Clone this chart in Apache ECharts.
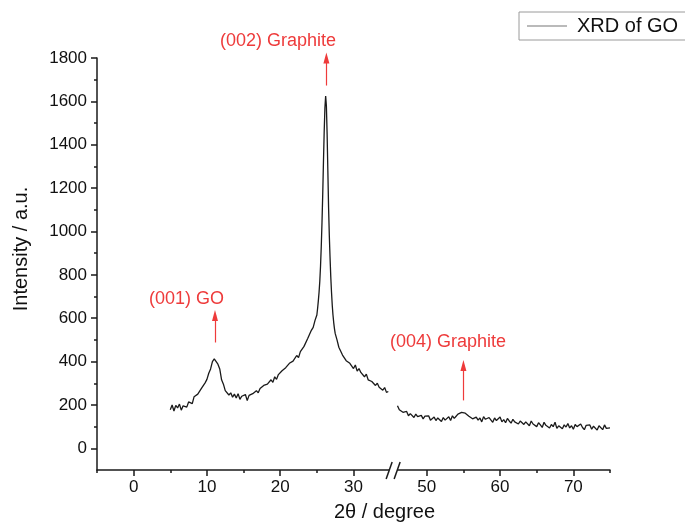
<!DOCTYPE html>
<html><head><meta charset="utf-8">
<script src="https://cdn.jsdelivr.net/npm/echarts@6/dist/echarts.min.js"></script>
<style>html,body{margin:0;padding:0;background:#fff}#c{width:685px;height:529px}</style>
</head><body><div id="c"></div>
<script>
// 2θ (degree), intensity (a.u.) — low-angle scan segment
const scanLow = [
[5.0,178],[5.25,200],[5.5,172],[5.75,198],[6.0,186],[6.25,204],[6.5,176],[6.75,196],
[7.0,202],[7.25,190],[7.5,214],[7.75,220],[8.0,206],[8.25,238],[8.5,230],[8.75,250],
[9.0,244],[9.25,276],[9.5,280],[9.75,302],[10.0,318],[10.25,346],[10.5,366],[10.75,400],
[11.0,412],[11.25,420],[11.5,388],[11.75,366],[12.0,316],[12.25,296],[12.5,266],[12.75,270],
[13.0,246],[13.25,256],[13.5,236],[13.75,250],[14.0,232],[14.25,252],[14.5,226],[14.75,240],
[15.0,236],[15.25,248],[15.5,220],[15.75,244],[16.0,236],[16.25,252],[16.5,246],[16.75,266],
[17.0,256],[17.25,276],[17.5,268],[17.75,290],[18.0,282],[18.25,296],[18.5,294],[18.75,316],
[19.0,304],[19.25,330],[19.5,318],[19.75,340],[20.0,344],[20.25,358],[20.5,350],[20.75,372],
[21.0,368],[21.25,392],[21.5,386],[21.75,402],[22.0,406],[22.25,428],[22.5,418],[22.75,446],
[23.0,450],[23.25,470],[23.5,474],[23.75,506],[24.0,514],[24.25,544],[24.5,558],[24.75,590],
[25.0,615],[25.1,645],[25.2,680],[25.3,720],[25.4,770],[25.5,840],[25.6,930],[25.7,1040],
[25.8,1170],[25.9,1320],[26.0,1460],[26.1,1570],[26.2,1625],[26.3,1580],[26.4,1450],[26.5,1280],
[26.6,1110],[26.7,980],[26.8,880],[26.9,790],[27.0,720],[27.1,660],[27.2,615],[27.3,580],
[27.4,552],[27.5,530],[27.75,500],[28.0,466],[28.25,468],[28.5,430],[28.75,434],[29.0,404],
[29.25,412],[29.5,392],[29.75,396],[30.0,368],[30.25,384],[30.5,356],[30.75,368],[31.0,350],
[31.25,352],[31.5,330],[31.75,342],[32.0,316],[32.25,324],[32.5,308],[32.75,312],[33.0,290],
[33.25,300],[33.5,282],[33.75,288],[34.0,268],[34.25,280],[34.5,258],[34.75,262]
];
// high-angle scan segment
const scanHigh = [
[46.0,196],[46.25,178],[46.5,182],[46.75,166],[47.0,162],[47.25,170],[47.5,150],[47.75,160],
[48.0,154],[48.25,142],[48.5,158],[48.75,146],[49.0,140],[49.25,152],[49.5,136],[49.75,148],
[50.0,142],[50.25,150],[50.5,130],[50.75,138],[51.0,144],[51.25,128],[51.5,140],[51.75,134],
[52.0,124],[52.25,142],[52.5,130],[52.75,138],[53.0,146],[53.25,128],[53.5,150],[53.75,138],
[54.0,148],[54.25,158],[54.5,150],[54.75,166],[55.0,174],[55.25,162],[55.5,168],[55.75,148],
[56.0,154],[56.25,136],[56.5,128],[56.75,144],[57.0,130],[57.25,140],[57.5,122],[57.75,146],
[58.0,134],[58.25,126],[58.5,142],[58.75,136],[59.0,120],[59.25,140],[59.5,128],[59.75,134],
[60.0,144],[60.25,122],[60.5,132],[60.75,118],[61.0,138],[61.25,126],[61.5,116],[61.75,134],
[62.0,122],[62.25,130],[62.5,112],[62.75,126],[63.0,132],[63.25,110],[63.5,122],[63.75,116],
[64.0,104],[64.25,126],[64.5,112],[64.75,120],[65.0,100],[65.25,118],[65.5,108],[65.75,96],
[66.0,120],[66.25,106],[66.5,114],[66.75,94],[67.0,110],[67.25,100],[67.5,120],[67.75,92],
[68.0,104],[68.25,112],[68.5,90],[68.75,108],[69.0,98],[69.25,114],[69.5,94],[69.75,104],
[70.0,88],[70.25,110],[70.5,100],[70.75,92],[71.0,112],[71.25,96],[71.5,86],[71.75,106],
[72.0,98],[72.25,108],[72.5,88],[72.75,102],[73.0,94],[73.25,84],[73.5,104],[73.75,96],
[74.0,86],[74.25,108],[74.5,92],[74.75,100],[75.0,94]
];
const xTickLabels = [0, 10, 20, 30, 50, 60, 70];
const xMinorTicks = [-5, 5, 15, 25, 55, 65, 75];
const yTickLabels = [0, 200, 400, 600, 800, 1000, 1200, 1400, 1600, 1800];
const yMinorTicks = [100, 300, 500, 700, 900, 1100, 1300, 1500, 1700];
const axisBreak = { start: 35, end: 45 };
const seriesName = 'XRD of GO';
const peakNotes = ['(001) GO', '(002) Graphite', '(004) Graphite'];
// annotation anchors in data units: label centre, arrow x, arrow base, arrow tip
const noteAnchors = [
  { label: [7.2, 690], arrow: [11.1, 488, 613] },
  { label: [19.7, 1880], arrow: [26.3, 1673, 1800] },
  { label: [52.9, 488], arrow: [55.0, 221, 382] }
];

const FONT = '"Liberation Sans", Arial, sans-serif';
const AX = '#1a1a1a';
const RED = '#ee3b3b';
const chart = echarts.init(document.getElementById('c'));
const brk = [{ start: axisBreak.start, end: axisBreak.end, gap: 0 }];

const markLineData = noteAnchors.map(n => [
  { coord: [n.arrow[0], n.arrow[1]], lineStyle: { color: RED }, itemStyle: { color: RED } },
  { coord: [n.arrow[0], n.arrow[2]], lineStyle: { color: RED }, itemStyle: { color: RED } }
]);

chart.setOption({
  animation: false,
  backgroundColor: '#fff',
  grid: { left: 97, right: 75, top: 58, bottom: 59 },
  legend: {
    left: 519, top: 12,
    data: [seriesName],
    icon: 'rect',
    borderColor: '#9a9a9a', borderWidth: 1,
    padding: [4, 40, 4, 8],
    itemWidth: 40, itemHeight: 1,
    itemStyle: { color: '#777' },
    textStyle: { fontSize: 20, color: '#111', fontFamily: FONT, padding: [0, 0, 0, 5] }
  },
  xAxis: [
    {
      type: 'value', min: -5, max: 75, position: 'bottom',
      breaks: brk, breakArea: { show: false, expandOnClick: false },
      axisLine: { show: true, onZero: false, lineStyle: { color: AX, width: 1.5 } },
      axisTick: { show: true, length: 6, customValues: xTickLabels, lineStyle: { color: AX, width: 1.5 } },
      axisLabel: { customValues: xTickLabels, fontSize: 17, color: '#111', margin: 9, fontFamily: FONT },
      splitLine: { show: false },
      name: '2θ / degree', nameLocation: 'middle', nameGap: 32,
      nameTextStyle: { fontSize: 20, color: '#111', fontFamily: FONT, padding: [0, 0, 0, 62] }
    },
    {
      type: 'value', min: -5, max: 75, position: 'bottom',
      breaks: brk, breakArea: { show: false, expandOnClick: false },
      axisLine: { show: false, onZero: false },
      axisTick: { show: true, length: 3, customValues: xMinorTicks, lineStyle: { color: AX, width: 1.5 } },
      axisLabel: { show: false },
      splitLine: { show: false }
    }
  ],
  yAxis: [
    {
      type: 'value', min: -100, max: 1800, position: 'left',
      axisLine: { show: true, onZero: false, lineStyle: { color: AX, width: 1.5 } },
      axisTick: { show: true, length: 6, customValues: yTickLabels, lineStyle: { color: AX, width: 1.5 } },
      axisLabel: { customValues: yTickLabels, formatter: v => String(v), fontSize: 17, color: '#111', margin: 10, fontFamily: FONT },
      splitLine: { show: false },
      name: 'Intensity / a.u.', nameLocation: 'middle', nameGap: 66, nameRotate: 90,
      nameTextStyle: { fontSize: 20, color: '#111', fontFamily: FONT, padding: [0, 0, 0, 30] }
    },
    {
      type: 'value', min: -100, max: 1800, position: 'left',
      axisLine: { show: false, onZero: false },
      axisTick: { show: true, length: 3, customValues: yMinorTicks, lineStyle: { color: AX, width: 1.5 } },
      axisLabel: { show: false },
      splitLine: { show: false }
    }
  ],
  series: [
    {
      name: seriesName, type: 'line', data: scanLow, xAxisIndex: 0, yAxisIndex: 0,
      symbol: 'none', showSymbol: false, clip: false,
      lineStyle: { color: '#1a1a1a', width: 1.3 }, itemStyle: { color: '#1a1a1a' },
      emphasis: { disabled: true },
      markLine: {
        silent: true, symbol: ['none', 'triangle'], symbolSize: [6, 11],
        lineStyle: { color: RED, width: 1.2, type: 'solid', opacity: 1 },
        itemStyle: { color: RED },
        label: { show: false },
        emphasis: { disabled: true },
        data: markLineData
      }
    },
    {
      name: seriesName, type: 'line', data: scanHigh, xAxisIndex: 0, yAxisIndex: 0,
      symbol: 'none', showSymbol: false, clip: false,
      lineStyle: { color: '#1a1a1a', width: 1.3 }, itemStyle: { color: '#1a1a1a' },
      emphasis: { disabled: true }
    }
  ]
});

// peak labels and the axis-break mark "//", placed through the axis scales
const toPx = v => chart.convertToPixel({ xAxisIndex: 0, yAxisIndex: 0 }, v);
const graphics = noteAnchors.map((n, i) => {
  const q = toPx(n.label);
  return {
    type: 'text', x: q[0], y: q[1], z: 50,
    style: { text: peakNotes[i], fill: RED, font: '18px ' + FONT, align: 'center', verticalAlign: 'middle' }
  };
});
const p = toPx([axisBreak.start, -100]);
if (p) {
  const cx = p[0] + 3, cy = p[1];
  graphics.push(
    { type: 'rect', shape: { x: cx - 4, y: cy - 3, width: 8, height: 6 }, style: { fill: '#fff' }, z: 100 },
    { type: 'line', shape: { x1: cx - 7, y1: cy + 9, x2: cx - 1, y2: cy - 8 }, style: { stroke: AX, lineWidth: 1.5 }, z: 101 },
    { type: 'line', shape: { x1: cx + 1, y1: cy + 9, x2: cx + 7, y2: cy - 8 }, style: { stroke: AX, lineWidth: 1.5 }, z: 101 }
  );
}
chart.setOption({ graphic: graphics });
</script>
</body></html>
